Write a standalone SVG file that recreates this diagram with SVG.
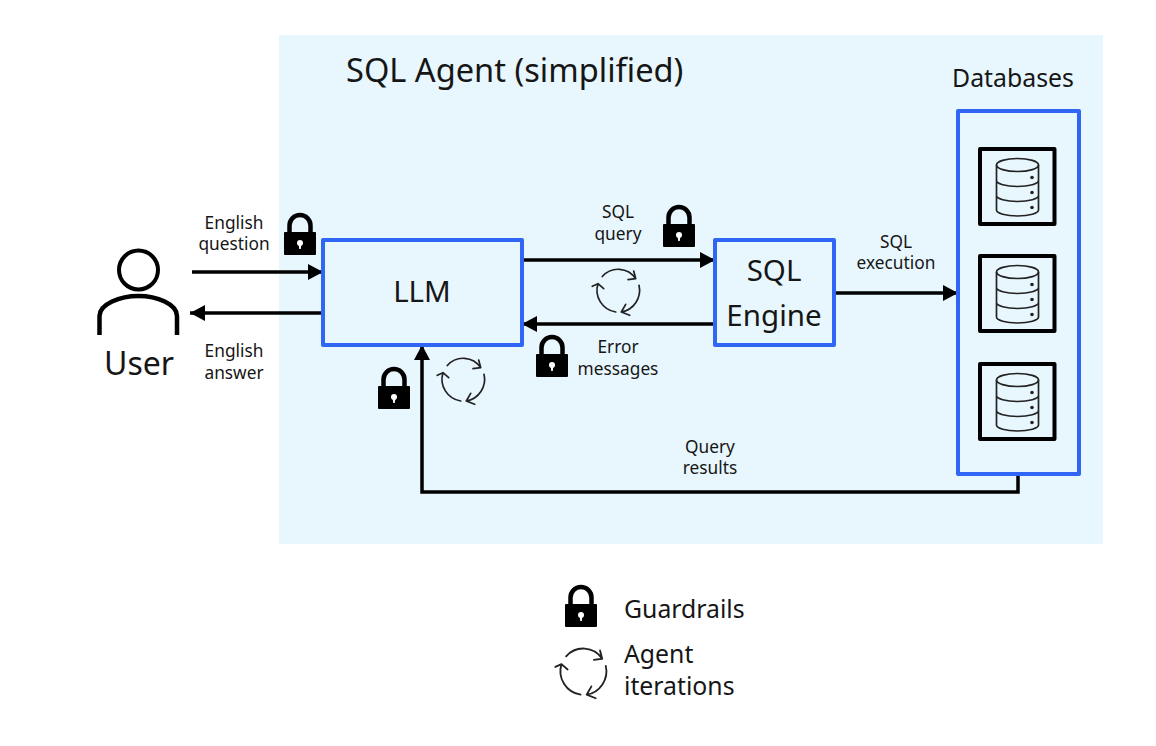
<svg xmlns="http://www.w3.org/2000/svg" xmlns:xlink="http://www.w3.org/1999/xlink" width="1156" height="746" viewBox="0 0 1156 746">
<style>
text{font-family:"Noto Sans","Liberation Sans",sans-serif;fill:#161616}
.s{font-size:17.300px;text-anchor:middle}
.m{font-size:24.800px}
.l{font-size:29.500px;text-anchor:middle}
.box{fill:none;stroke:#2f66f6;stroke-width:4;stroke-linejoin:round}
.ib{fill:none;stroke:#000;stroke-width:4;stroke-linejoin:round}
.c{fill:none;stroke:#000;stroke-width:3.500}
</style>
<defs>
<marker id="a" markerUnits="userSpaceOnUse" markerWidth="16" markerHeight="16" refX="15" refY="8" orient="auto"><path d="M0 0L15 8L0 16Z" fill="#000"/></marker>
<symbol id="lock" width="34" height="42" viewBox="0 0 34 42" overflow="visible">
<path d="M6.500 21V12.500a10.500 10.500 0 0 1 21 0V21" fill="none" stroke="#000" stroke-width="4.500"/>
<rect x="1" y="19" width="32" height="23" rx="1" fill="#000"/>
<circle cx="17" cy="30" r="3" fill="#fff"/><path d="M15.700 31h2.600l-.5 5h-1.600z" fill="#fff"/>
</symbol>
<symbol id="cyc" width="60" height="60" viewBox="-30 -30 60 60" overflow="visible">
<g fill="none" stroke="#222" stroke-width="1.700" stroke-linecap="round" stroke-linejoin="round">
<path d="M-14.700 -14.500A21 21 0 0 1 18.700 -12.300M11 -11.300L18.700 -12.300L16.700 -20"/>
<path d="M22 -5.700A22 22 0 0 1 4.300 21M12.700 24.300L4.300 21L8.700 13.300"/>
<path d="M-1.300 21A22 22 0 0 1 -19 -7.300M-24.700 -4.700L-19 -7.300L-13.300 -2.300"/>
</g></symbol>
<symbol id="db" width="79" height="79" viewBox="0 0 79 79" overflow="visible">
<rect x="2" y="2" width="74.500" height="75" class="ib"/>
<g fill="none" stroke="#222" stroke-width="1.700">
<ellipse cx="39.500" cy="18" rx="21" ry="6.500"/>
<path d="M18.500 18V63A21 6 0 0 0 60.500 63V18M18.500 33.500A21 6 0 0 0 60.500 33.500M18.500 48.500A21 6 0 0 0 60.500 48.500"/>
</g>
<circle cx="54" cy="30.500" r="1.800" fill="#222"/><circle cx="54" cy="45.500" r="1.800" fill="#222"/><circle cx="54" cy="60.500" r="1.800" fill="#222"/>
</symbol>
</defs>
<rect id="agent-bg" x="279" y="35" width="824" height="509" fill="#e8f6fe"/>
<text id="title" x="346" y="82" style="font-size:32.600px">SQL Agent (simplified)</text>
<g id="connectors" class="c">
<path class="c" d="M192 272H323" marker-end="url(#a)"/>
<path class="c" d="M322 313H190" marker-end="url(#a)"/>
<path class="c" d="M522 260H715" marker-end="url(#a)"/>
<path class="c" d="M715 324H522" marker-end="url(#a)"/>
<path class="c" d="M834 293H958" marker-end="url(#a)"/>
<path class="c" d="M1018 474V492H422V345" marker-end="url(#a)"/>
</g>
<g id="user">
<circle cx="138.500" cy="270" r="19.500" fill="none" stroke="#000" stroke-width="4"/>
<path d="M99.500 335V316C99.500 304 120 296 138.500 296S177 304 177 316V335" fill="none" stroke="#000" stroke-width="4.500"/>
<text x="139" y="375" style="font-size:32px;text-anchor:middle">User</text>
</g>
<g id="llm"><rect class="box" x="323" y="240" width="199" height="105"/><text class="l" x="422" y="302">LLM</text></g>
<g id="sql-engine"><rect class="box" x="715" y="240" width="119" height="105"/><text class="l" x="774" y="281">SQL</text><text class="l" x="774" y="326">Engine</text></g>
<g id="databases">
<text x="1013" y="87" style="font-size:24.800px;text-anchor:middle">Databases</text>
<rect class="box" x="958" y="111" width="121" height="363"/>
<use xlink:href="#db" href="#db" x="978" y="147"/>
<use xlink:href="#db" href="#db" x="978" y="254"/>
<use xlink:href="#db" href="#db" x="978" y="362"/>
</g>
<g id="labels">
<text class="s" x="234" y="229">English</text><text class="s" x="234" y="250">question</text>
<text class="s" x="234" y="357">English</text><text class="s" x="234" y="379">answer</text>
<text class="s" x="618" y="218">SQL</text><text class="s" x="618" y="240">query</text>
<text class="s" x="618" y="353">Error</text><text class="s" x="618" y="375">messages</text>
<text class="s" x="896" y="248">SQL</text><text class="s" x="896" y="269">execution</text>
<text class="s" x="710" y="453">Query</text><text class="s" x="710" y="474">results</text>
</g>
<g id="guardrails">
<use xlink:href="#lock" href="#lock" x="283" y="213"/>
<use xlink:href="#lock" href="#lock" x="662" y="205"/>
<use xlink:href="#lock" href="#lock" x="535" y="335"/>
<use xlink:href="#lock" href="#lock" x="377" y="367"/>
</g>
<g id="iterations">
<use xlink:href="#cyc" href="#cyc" x="587" y="261"/>
<use xlink:href="#cyc" href="#cyc" x="432" y="350"/>
</g>
<g id="legend">
<use xlink:href="#lock" href="#lock" x="564" y="585"/>
<text class="m" x="624" y="618">Guardrails</text>
<use xlink:href="#cyc" href="#cyc" transform="translate(582 672) scale(1.08) translate(-30 -30)"/>
<text class="m" x="624" y="663">Agent</text>
<text class="m" x="624" y="695">iterations</text>
</g>
</svg>
